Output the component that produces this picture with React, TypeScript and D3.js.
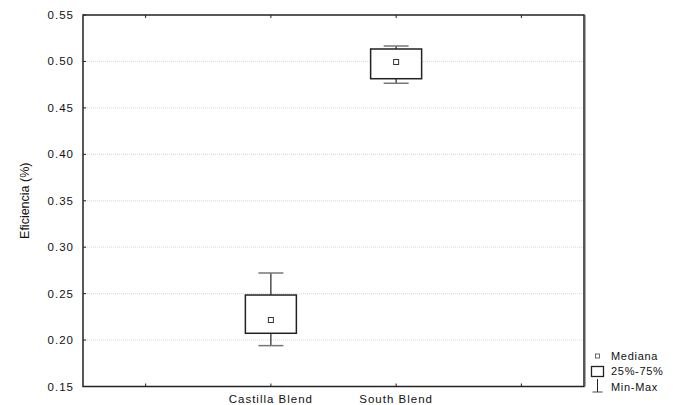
import React, { useEffect, useRef } from 'react';
import * as d3 from 'd3';

// categories (empty slots at either side, as in the original axis)
const categories = ['', 'Castilla Blend', 'South Blend', ' '];
const groups = ['Castilla Blend', 'South Blend'];
const minValues = [0.194, 0.4765];
const q1Values = [0.2073, 0.4814];
const medianValues = [0.2216, 0.4994];
const q3Values = [0.2485, 0.5134];
const maxValues = [0.2722, 0.5166];
const yTicks = [0.15, 0.2, 0.25, 0.3, 0.35, 0.4, 0.45, 0.5, 0.55];
const legendLabels = ['Mediana', '25%-75%', 'Min-Max'];

function App() {
    const ref = useRef<SVGSVGElement>(null);

    useEffect(() => {
        const width = 673;
        const height = 405;
        const margin = { top: 15, right: 89, bottom: 18.5, left: 83 };

        const svg = d3.select(ref.current);
        svg.selectAll('*').remove();
        svg.attr('width', width).attr('height', height).style('background', 'white');

        const x = d3.scalePoint<string>()
            .domain(categories)
            .range([margin.left, width - margin.right])
            .padding(0.5);

        const y = d3.scaleLinear()
            .domain([0.15, 0.55])
            .range([height - margin.bottom, margin.top]);

        const font = 'Liberation Sans, Arial, sans-serif';

        // dotted grid
        svg.append('g')
            .selectAll('line')
            .data(yTicks.slice(1, -1))
            .join('line')
            .attr('x1', margin.left)
            .attr('x2', width - margin.right)
            .attr('y1', (d) => y(d))
            .attr('y2', (d) => y(d))
            .attr('stroke', '#d8d8d8')
            .attr('stroke-width', 1)
            .attr('stroke-dasharray', '1,1');

        // y axis labels + ticks
        const yAxis = svg.append('g');
        yAxis.selectAll('text')
            .data(yTicks)
            .join('text')
            .attr('x', margin.left - 9)
            .attr('y', (d) => y(d))
            .attr('dy', '0.35em')
            .attr('text-anchor', 'end')
            .attr('font-family', font)
            .attr('font-size', 11.5)
            .attr('letter-spacing', 1)
            .attr('fill', '#111')
            .text((d) => d3.format('.2f')(d));
        yAxis.selectAll('line')
            .data(yTicks)
            .join('line')
            .attr('x1', margin.left)
            .attr('x2', margin.left + 3)
            .attr('y1', (d) => y(d))
            .attr('y2', (d) => y(d))
            .attr('stroke', '#222');

        // x ticks top and bottom (inward)
        const xAxis = svg.append('g');
        xAxis.selectAll('line.b')
            .data(categories)
            .join('line')
            .attr('class', 'b')
            .attr('x1', (d) => x(d)!)
            .attr('x2', (d) => x(d)!)
            .attr('y1', height - margin.bottom)
            .attr('y2', height - margin.bottom - 3)
            .attr('stroke', '#222');
        xAxis.selectAll('line.t')
            .data(categories)
            .join('line')
            .attr('class', 't')
            .attr('x1', (d) => x(d)!)
            .attr('x2', (d) => x(d)!)
            .attr('y1', margin.top)
            .attr('y2', margin.top + 3)
            .attr('stroke', '#222');
        xAxis.selectAll('text')
            .data(groups)
            .join('text')
            .attr('x', (d) => x(d)!)
            .attr('y', height - margin.bottom + 16.5)
            .attr('text-anchor', 'middle')
            .attr('font-family', font)
            .attr('font-size', 11.5)
            .attr('letter-spacing', 1)
            .attr('fill', '#111')
            .text((d) => d);

        // y label
        svg.append('text')
            .attr('transform', `translate(29,${(margin.top + height - margin.bottom) / 2}) rotate(-90)`)
            .attr('text-anchor', 'middle')
            .attr('font-family', font)
            .attr('font-size', 12.5)
            .attr('fill', '#111')
            .text('Eficiencia (%)');

        // boxes
        const boxW = 51;
        const capW = 25;
        const boxes = svg.append('g');
        groups.forEach((g, i) => {
            const cx = x(g)!;
            boxes.append('line')
                .attr('x1', cx).attr('x2', cx)
                .attr('y1', y(maxValues[i])).attr('y2', y(q3Values[i]))
                .attr('stroke', '#222').attr('stroke-width', 1.2);
            boxes.append('line')
                .attr('x1', cx).attr('x2', cx)
                .attr('y1', y(q1Values[i])).attr('y2', y(minValues[i]))
                .attr('stroke', '#222').attr('stroke-width', 1.2);
            [maxValues[i], minValues[i]].forEach((v) => {
                boxes.append('line')
                    .attr('x1', cx - capW / 2).attr('x2', cx + capW / 2)
                    .attr('y1', y(v)).attr('y2', y(v))
                    .attr('stroke', '#777').attr('stroke-width', 1.5);
            });
            boxes.append('rect')
                .attr('x', cx - boxW / 2)
                .attr('y', y(q3Values[i]))
                .attr('width', boxW)
                .attr('height', y(q1Values[i]) - y(q3Values[i]))
                .attr('fill', 'white')
                .attr('stroke', '#222')
                .attr('stroke-width', 1.5);
            boxes.append('rect')
                .attr('x', cx - 2.5)
                .attr('y', y(medianValues[i]) - 2.5)
                .attr('width', 5)
                .attr('height', 5)
                .attr('fill', 'white')
                .attr('stroke', '#333')
                .attr('stroke-width', 1);
        });

        // frame
        svg.append('rect')
            .attr('x', margin.left)
            .attr('y', margin.top)
            .attr('width', width - margin.left - margin.right)
            .attr('height', height - margin.top - margin.bottom)
            .attr('fill', 'none')
            .attr('stroke', '#222')
            .attr('stroke-width', 1.5);
        svg.append('line')
            .attr('x1', width - margin.right + 1).attr('x2', width - margin.right + 1)
            .attr('y1', margin.top).attr('y2', height - margin.bottom)
            .attr('stroke', '#555').attr('stroke-width', 1);

        // legend
        const lg = svg.append('g');
        const lx = 597.5;
        const ly = [356, 371.5, 387];
        lg.append('rect')
            .attr('x', lx - 2).attr('y', ly[0] - 2).attr('width', 4).attr('height', 4)
            .attr('fill', 'white').attr('stroke', '#444').attr('stroke-width', 0.8);
        lg.append('rect')
            .attr('x', lx - 6).attr('y', ly[1] - 5).attr('width', 12).attr('height', 10)
            .attr('fill', 'white').attr('stroke', '#222').attr('stroke-width', 1.3);
        lg.append('line')
            .attr('x1', lx).attr('x2', lx).attr('y1', ly[2] - 8).attr('y2', ly[2] + 5)
            .attr('stroke', '#222');
        lg.append('line')
            .attr('x1', lx - 5).attr('x2', lx + 5).attr('y1', ly[2] + 5).attr('y2', ly[2] + 5)
            .attr('stroke', '#444');
        lg.selectAll('text')
            .data(legendLabels)
            .join('text')
            .attr('x', 611)
            .attr('y', (d, i) => ly[i])
            .attr('dy', '0.35em')
            .attr('font-family', font)
            .attr('font-size', 11)
            .attr('letter-spacing', 0.7)
            .attr('fill', '#111')
            .text((d) => d);
    }, []);

    return (
        <svg ref={ref} style={{ position: 'absolute', left: 0, top: 0, display: 'block' }}></svg>
    );
}

export default App;
